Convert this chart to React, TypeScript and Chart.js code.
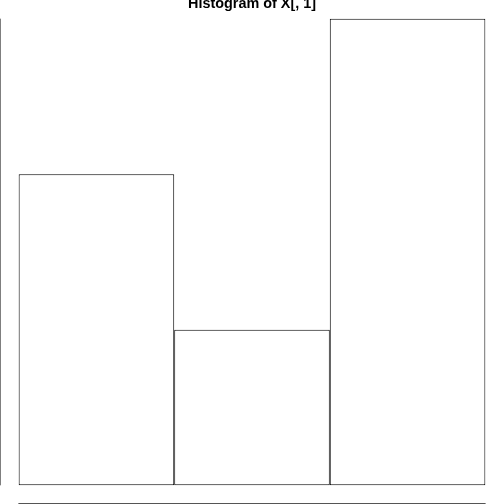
import React, { useEffect, useRef } from "react";
import { Chart, registerables } from "chart.js";

Chart.register(...registerables);

const breaks = [0, 1, 2, 3];
const counts = [4, 2, 6];
const yTicks = [0, 1, 2, 3, 4, 5, 6];
const title = "Histogram of X[, 1]";

export default function App() {
  const ref = useRef<HTMLCanvasElement | null>(null);

  useEffect(() => {
    if (!ref.current) return;
    const xr = breaks[breaks.length - 1] - breaks[0];
    const yMax = yTicks[yTicks.length - 1];
    const yMin = yTicks[0];
    const yr = yMax - yMin;

    const axesPlugin = {
      id: "rAxes",
      afterDraw(chart: any) {
        const ctx = chart.ctx;
        const xs = chart.scales.x;
        const ys = chart.scales.y;
        ctx.save();
        ctx.strokeStyle = "#000";
        ctx.lineWidth = 1;
        // y axis
        const ax = xs.getPixelForValue(xs.min);
        ctx.beginPath();
        ctx.moveTo(ax, ys.getPixelForValue(yMin));
        ctx.lineTo(ax, ys.getPixelForValue(yMax));
        for (const t of yTicks) {
          const py = ys.getPixelForValue(t);
          ctx.moveTo(ax, py);
          ctx.lineTo(ax - 7, py);
        }
        ctx.stroke();
        // x axis
        const ay = ys.getPixelForValue(ys.min) - 0.5;
        ctx.strokeStyle = "#555";
        ctx.beginPath();
        ctx.moveTo(xs.getPixelForValue(breaks[0]), ay);
        ctx.lineTo(xs.getPixelForValue(breaks[breaks.length - 1]), ay);
        for (const b of breaks) {
          const px = xs.getPixelForValue(b);
          ctx.moveTo(px, ay);
          ctx.lineTo(px, ay + 7);
        }
        ctx.stroke();
        // title
        ctx.fillStyle = "#000";
        ctx.font = 'bold 14.4px "Liberation Sans", Arial, sans-serif';
        ctx.textAlign = "center";
        ctx.textBaseline = "alphabetic";
        ctx.fillText(title, chart.width / 2, 7.5);
        ctx.restore();
      },
    };

    const chart = new Chart(ref.current, {
      type: "bar",
      data: {
        datasets: [
          {
            data: counts.map((c, i) => ({ x: (breaks[i] + breaks[i + 1]) / 2, y: c })),
            backgroundColor: "#ffffff",
            borderColor: "#000000",
            borderWidth: 1,
            borderSkipped: false,
            barPercentage: 1,
            categoryPercentage: 1,
            inflateAmount: 0,
          } as any,
        ],
      },
      options: {
        animation: false,
        responsive: false,
        maintainAspectRatio: false,
        layout: { padding: 0 },
        plugins: { legend: { display: false }, tooltip: { enabled: false }, title: { display: false } },
        scales: {
          x: {
            type: "linear",
            display: false,
            offset: false,
            grid: { offset: false },
            min: breaks[0] - 0.04 * xr,
            max: breaks[breaks.length - 1] + 0.04 * xr,
            ticks: { stepSize: 1, includeBounds: false },
          },
          y: {
            type: "linear",
            display: false,
            min: yMin - 0.04 * yr,
            max: yMax + 0.04 * yr,
            ticks: { stepSize: 1, includeBounds: false },
          },
        },
      },
      plugins: [axesPlugin],
    });
    return () => chart.destroy();
  }, []);

  return (
    <canvas
      ref={ref}
      width={504}
      height={504}
      style={{ position: "fixed", left: 0, top: 0, width: 504, height: 504, background: "#fff" }}
    />
  );
}
